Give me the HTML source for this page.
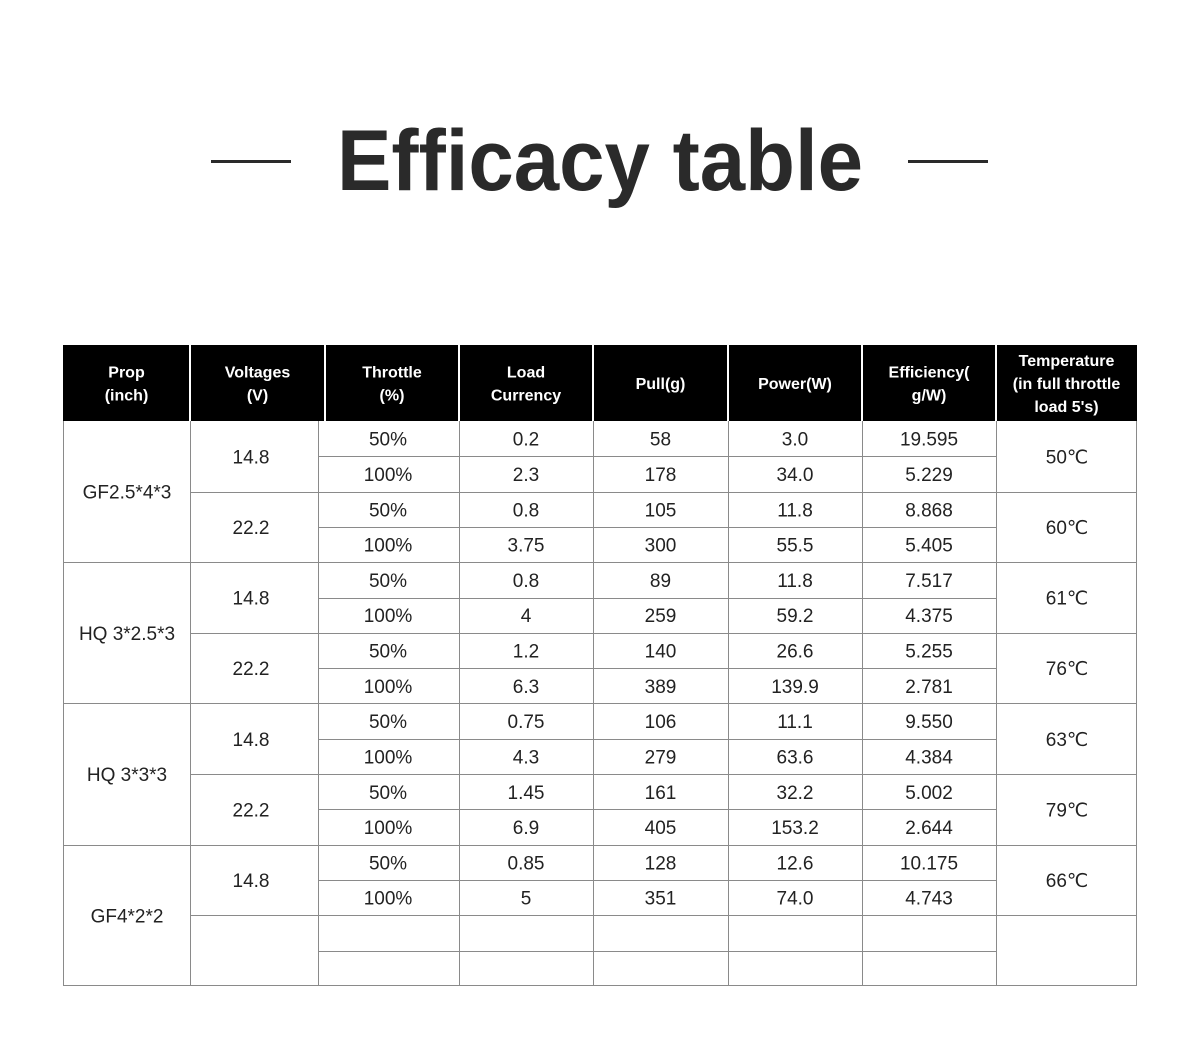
<!DOCTYPE html>
<html><head><meta charset="utf-8"><style>
html,body{margin:0;padding:0;background:#fff;}
svg{display:block}
</style></head><body>
<svg id="s" width="1200" height="1057" xmlns="http://www.w3.org/2000/svg" font-family="Liberation Sans, DejaVu Sans, sans-serif">
<rect width="1200" height="1057" fill="#fff"/>
<rect x="211" y="160" width="80" height="3" fill="#2a2a2a"/>
<rect x="908" y="160" width="80" height="3" fill="#2a2a2a"/>
<text x="600" y="190" text-anchor="middle" font-size="86" font-weight="bold" fill="#2a2a2a" textLength="526" lengthAdjust="spacingAndGlyphs">Efficacy table</text>
<rect x="63" y="345" width="1074" height="76" fill="#000"/>
<g id="g"></g>
</svg>
<script>
var g=document.getElementById('g'),h='';
var hx=[63,190,325,459,593,728,862,996,1137];
var bx=[63,190,318,459,593,728,862,996,1137];
var T=421,R=35.31,B=986,L='#8a8a8a';
function ln(x1,y1,x2,y2,c,w){h+='<line x1="'+x1+'" y1="'+y1+'" x2="'+x2+'" y2="'+y2+'" stroke="'+c+'" stroke-width="'+(w||1)+'"/>';}
function tx(x,y,t,s,c,b){h+='<text x="'+x+'" y="'+y+'" text-anchor="middle" font-size="'+s+'" fill="'+c+'"'+(b?' font-weight="bold"':'')+'>'+t+'</text>';}
for(var i=1;i<8;i++)ln(hx[i],345,hx[i],421,'#fff',2);
var hd=[['Prop','(inch)'],['Voltages','(V)'],['Throttle','(%)'],['Load','Currency'],['Pull(g)'],['Power(W)'],['Efficiency(','g/W)'],['Temperature','(in full throttle','load 5\'s)']];
hd.forEach(function(a,i){var cx=(hx[i]+hx[i+1])/2;var n=a.length;var y0=383-(n-1)*11.5+6;a.forEach(function(t,j){tx(cx,y0+j*23,t,16,'#fff',1);});});
// outer
ln(63.5,T,63.5,B,L);ln(1136.5,T,1136.5,B,L);ln(63,B-0.5,1137,B-0.5,L);
for(var i=1;i<8;i++)ln(bx[i]+.5,T,bx[i]+.5,B,L);
for(var r=1;r<16;r++){var y=Math.round(T+r*R)+.5;
 ln(318,y,996,y,L);
 if(r%2==0){ln(190,y,318,y,L);ln(996,y,1137,y,L);}
 if(r%4==0)ln(63,y,190,y,L);}
var d=[['0.2','58','3.0','19.595'],['2.3','178','34.0','5.229'],['0.8','105','11.8','8.868'],['3.75','300','55.5','5.405'],
['0.8','89','11.8','7.517'],['4','259','59.2','4.375'],['1.2','140','26.6','5.255'],['6.3','389','139.9','2.781'],
['0.75','106','11.1','9.550'],['4.3','279','63.6','4.384'],['1.45','161','32.2','5.002'],['6.9','405','153.2','2.644'],
['0.85','128','12.6','10.175'],['5','351','74.0','4.743']];
var C='#222',fs=19;
d.forEach(function(row,r){var y=T+r*R+R/2+7;tx(388,y,r%2?'100%':'50%',fs,C);
 row.forEach(function(v,j){tx((bx[j+3]+bx[j+4])/2,y,v,fs,C);});});
var props=['GF2.5*4*3','HQ 3*2.5*3','HQ 3*3*3','GF4*2*2'];
props.forEach(function(p,i){tx(127,T+i*4*R+2*R+7,p,fs,C);});
var volt=['14.8','22.2','14.8','22.2','14.8','22.2','14.8',''];
var temp=['50℃','60℃','61℃','76℃','63℃','79℃','66℃',''];
for(var i=0;i<7;i++){var y=T+i*2*R+R+7;tx(251,y,volt[i],fs,C);tx(1067,y,temp[i],fs,C);}
g.innerHTML=h;
</script>
</body></html>
